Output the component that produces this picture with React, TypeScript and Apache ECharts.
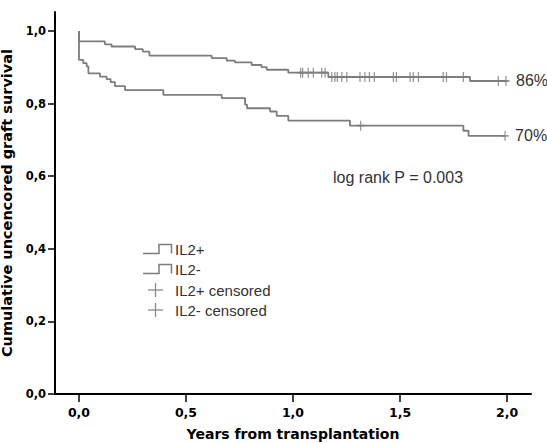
import React, { useEffect, useRef } from "react";
import * as echarts from "echarts";

// Kaplan-Meier steps: [time in years, survival after that time]
const il2PosTimes = [0, 0, 0.121, 0.152, 0.262, 0.298, 0.329, 0.62, 0.69, 0.729, 0.807, 0.853, 0.877, 0.978, 1.165, 1.827, 2.0];
const il2PosSurv = [1.0, 0.971, 0.963, 0.957, 0.95, 0.943, 0.932, 0.925, 0.918, 0.913, 0.906, 0.9, 0.893, 0.885, 0.873, 0.862, 0.862];

const il2NegTimes = [0, 0, 0.02, 0.036, 0.044, 0.098, 0.129, 0.148, 0.168, 0.215, 0.394, 0.667, 0.776, 0.785, 0.893, 0.924, 0.978, 1.266, 1.796, 1.82, 1.991];
const il2NegSurv = [1.0, 0.92, 0.911, 0.902, 0.883, 0.874, 0.867, 0.859, 0.848, 0.837, 0.824, 0.815, 0.797, 0.787, 0.778, 0.766, 0.753, 0.739, 0.725, 0.711, 0.711];

// censored observation times
const il2PosCensored = [1.036, 1.045, 1.071, 1.095, 1.134, 1.15, 1.181, 1.196, 1.207, 1.228, 1.251, 1.313, 1.336, 1.357, 1.38, 1.469, 1.483, 1.547, 1.562, 1.586, 1.702, 1.717, 1.796, 1.959, 1.995];
const il2NegCensored = [1.316, 1.991];

const xTicks = [0, 0.5, 1, 1.5, 2];
const yTicks = [0, 0.2, 0.4, 0.6, 0.8, 1.0];

const seriesNames = ["IL2+", "IL2-", "IL2+ censored", "IL2- censored"];
const endLabels = ["86%", "70%"];
const pValueText = "log rank P = 0.003";
const xTitle = "Years from transplantation";
const yTitle = "Cumulative uncencored graft survival";

const LINE = "#7d7d7d";
const CROSS = "#8a8a8a";
const TEXT = "#333333";
const SANS = "'Liberation Sans', Arial, sans-serif";
const BOLD = "'DejaVu Sans', Verdana, sans-serif";

function survAt(times: number[], surv: number[], t: number): number {
  let v = surv[0];
  for (let i = 0; i < times.length; i++) {
    if (times[i] <= t) v = surv[i];
  }
  return v;
}

const zip = (a: number[], b: number[]) => a.map((v, i) => [v, b[i]]);
const fmt = (v: number) => v.toFixed(1).replace(".", ",");

const CROSS_SYMBOL = "path://M5,0 L5,10 M0,5 L10,5";

export default function App() {
  const ref = useRef<HTMLDivElement>(null);

  useEffect(() => {
    if (!ref.current) return;
    const chart = echarts.init(ref.current, null, { renderer: "svg" });

    const legendRows = [249.5, 269.5, 290, 310];
    const legendGraphics: any[] = [];
    legendRows.forEach((cy, i) => {
      if (i < 2) {
        legendGraphics.push({
          type: "polyline",
          shape: {
            points: [
              [143, cy + 4],
              [159, cy + 4],
              [159, cy - 5],
              [171.5, cy - 5],
              [171.5, cy + 4],
            ],
          },
          style: { stroke: LINE, lineWidth: 1.5, fill: null },
          silent: true,
        });
      } else {
        legendGraphics.push({
          type: "line",
          shape: { x1: 148, y1: cy, x2: 163, y2: cy },
          style: { stroke: CROSS, lineWidth: 1.3 },
          silent: true,
        });
        legendGraphics.push({
          type: "line",
          shape: { x1: 155.5, y1: cy - 7, x2: 155.5, y2: cy + 7 },
          style: { stroke: CROSS, lineWidth: 1.3 },
          silent: true,
        });
      }
      legendGraphics.push({
        type: "text",
        x: 175,
        y: cy,
        style: {
          text: seriesNames[i],
          font: `15px ${SANS}`,
          fill: TEXT,
          textVerticalAlign: "middle",
          textAlign: "left",
        },
        silent: true,
      });
    });

    const option: any = {
      animation: false,
      backgroundColor: "#ffffff",
      grid: {
        left: 55,
        right: 16,
        top: 12,
        bottom: 49,
        containLabel: false,
        outerBoundsMode: "none",
      },
      xAxis: {
        type: "value",
        min: -0.112,
        max: 2.112,
        name: xTitle,
        nameLocation: "middle",
        nameGap: 33,
        nameTextStyle: { fontFamily: BOLD, fontWeight: "bold", fontSize: 14, color: "#000" },
        axisLine: { show: true, onZero: false, lineStyle: { color: "#000", width: 2 } },
        axisTick: { show: true, inside: false, length: 8, customValues: xTicks, lineStyle: { color: "#000", width: 1.5 } },
        axisLabel: {
          customValues: xTicks,
          formatter: (v: number) => fmt(v),
          fontFamily: BOLD,
          fontWeight: "bold",
          fontSize: 12.5,
          color: "#000",
          margin: 12,
        },
        splitLine: { show: false },
      },
      yAxis: {
        type: "value",
        min: 0,
        max: 1.052,
        name: yTitle,
        nameLocation: "middle",
        nameGap: 31,
        nameTextStyle: { fontFamily: BOLD, fontWeight: "bold", fontSize: 14.5, color: "#000" },
        axisLine: { show: true, onZero: false, lineStyle: { color: "#000", width: 2 } },
        axisTick: { show: true, inside: false, length: 7, customValues: yTicks, lineStyle: { color: "#000", width: 1.5 } },
        axisLabel: {
          customValues: yTicks,
          formatter: (v: number) => fmt(v),
          fontFamily: BOLD,
          fontWeight: "bold",
          fontSize: 11.5,
          color: "#000",
          margin: 9,
        },
        splitLine: { show: false },
      },
      series: [
        {
          name: seriesNames[0],
          type: "line",
          step: "end",
          data: zip(il2PosTimes, il2PosSurv),
          showSymbol: false,
          lineStyle: { color: LINE, width: 1.8 },
          itemStyle: { color: LINE },
          endLabel: {
            show: true,
            formatter: endLabels[0],
            distance: 9,
            fontFamily: SANS,
            fontSize: 16,
            color: TEXT,
          },
          z: 3,
        },
        {
          name: seriesNames[1],
          type: "line",
          step: "end",
          data: zip(il2NegTimes, il2NegSurv),
          showSymbol: false,
          lineStyle: { color: LINE, width: 1.8 },
          itemStyle: { color: LINE },
          endLabel: {
            show: true,
            formatter: endLabels[1],
            distance: 10,
            fontFamily: SANS,
            fontSize: 16,
            color: TEXT,
          },
          z: 3,
        },
        {
          name: seriesNames[2],
          type: "scatter",
          data: il2PosCensored.map((t) => [t, survAt(il2PosTimes, il2PosSurv, t)]),
          symbol: CROSS_SYMBOL,
          symbolSize: [7, 10],
          itemStyle: { color: "transparent", borderColor: LINE, borderWidth: 1.5 },
          z: 4,
        },
        {
          name: seriesNames[3],
          type: "scatter",
          data: il2NegCensored.map((t) => [t, survAt(il2NegTimes, il2NegSurv, t)]),
          symbol: CROSS_SYMBOL,
          symbolSize: [7, 10],
          itemStyle: { color: "transparent", borderColor: LINE, borderWidth: 1.5 },
          z: 4,
        },
      ],
      graphic: [
        {
          type: "text",
          x: 333,
          y: 177,
          style: {
            text: pValueText,
            font: `16px ${SANS}`,
            fill: TEXT,
            textVerticalAlign: "middle",
            textAlign: "left",
          },
          silent: true,
        },
        ...legendGraphics,
      ],
    };

    chart.setOption(option);
    return () => {
      chart.dispose();
    };
  }, []);

  return (
    <div
      ref={ref}
      style={{ position: "fixed", left: 0, top: 0, width: 547, height: 443, background: "#fff" }}
    />
  );
}
